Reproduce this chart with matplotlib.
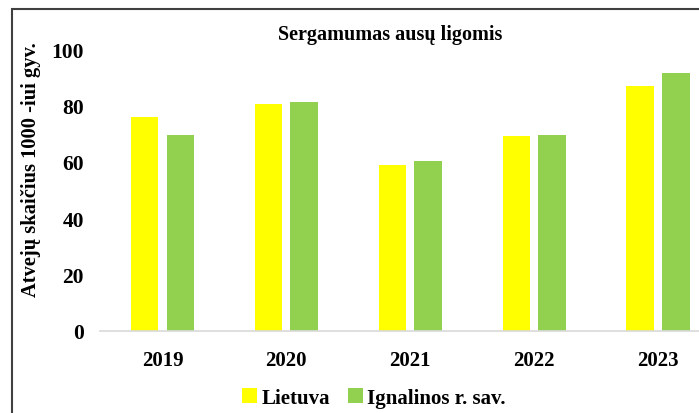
import matplotlib.pyplot as plt
import numpy as np
from matplotlib.patches import Rectangle

years = ["2019", "2020", "2021", "2022", "2023"]
lietuva = [75.8, 80.6, 59.0, 69.1, 86.9]
ignalina = [69.5, 81.3, 60.4, 69.5, 91.5]
yticks = [0, 20, 40, 60, 80, 100]

plt.rcParams['font.family'] = ['Liberation Serif', 'DejaVu Serif']
plt.rcParams['font.weight'] = 'bold'

W, H = 699, 414
fig = plt.figure(figsize=(W / 100, H / 100), dpi=100)

# outer chart frame (cropped on right and bottom in the reference)
fig.patches.append(Rectangle((12 / W, -0.1), 1.2, (H - 10) / H + 0.1,
                             transform=fig.transFigure, fill=False,
                             edgecolor='#404040', linewidth=1.5))

ax = fig.add_axes([100.5 / W, 82 / H, 619.5 / W, 282 / H])
x = np.arange(len(years))
w = 0.222
off = 0.144
ax.bar(x - off, lietuva, w, color='#FFFF00', label='Lietuva')
ax.bar(x + off, ignalina, w, color='#92D050', label='Ignalinos r. sav.')

ax.set_xlim(-0.5, len(years) - 0.5)
ax.set_ylim(0, 100)
ax.set_yticks(yticks)
ax.set_xticks(x)
ax.set_xticklabels(years)
for s in ['top', 'right', 'left']:
    ax.spines[s].set_visible(False)
ax.spines['bottom'].set_color('#d9d9d9')
ax.spines['bottom'].set_linewidth(1.2)
ax.tick_params(axis='y', length=0, pad=12, labelsize=15.5)
ax.tick_params(axis='x', length=0, pad=14, labelsize=15)
for lab in ax.get_xticklabels() + ax.get_yticklabels():
    lab.set_fontweight('bold')

fig.text(390 / W, 1 - 35 / H, 'Sergamumas ausų ligomis', ha='center', va='center',
         fontsize=14.5, fontweight='bold')
fig.text(31 / W, 1 - 170 / H, 'Atvejų skaičius 1000 -iui gyv.', rotation=90,
         ha='center', va='center', fontsize=14.8, fontweight='bold')

fig.legend(loc='center', bbox_to_anchor=(374 / W, 1 - 399 / H), ncol=2, frameon=False,
           prop={'size': 15, 'weight': 'bold'}, handlelength=0.7, handleheight=0.7,
           handletextpad=0.2, columnspacing=0.9)

fig.savefig('out.png', dpi=100)
